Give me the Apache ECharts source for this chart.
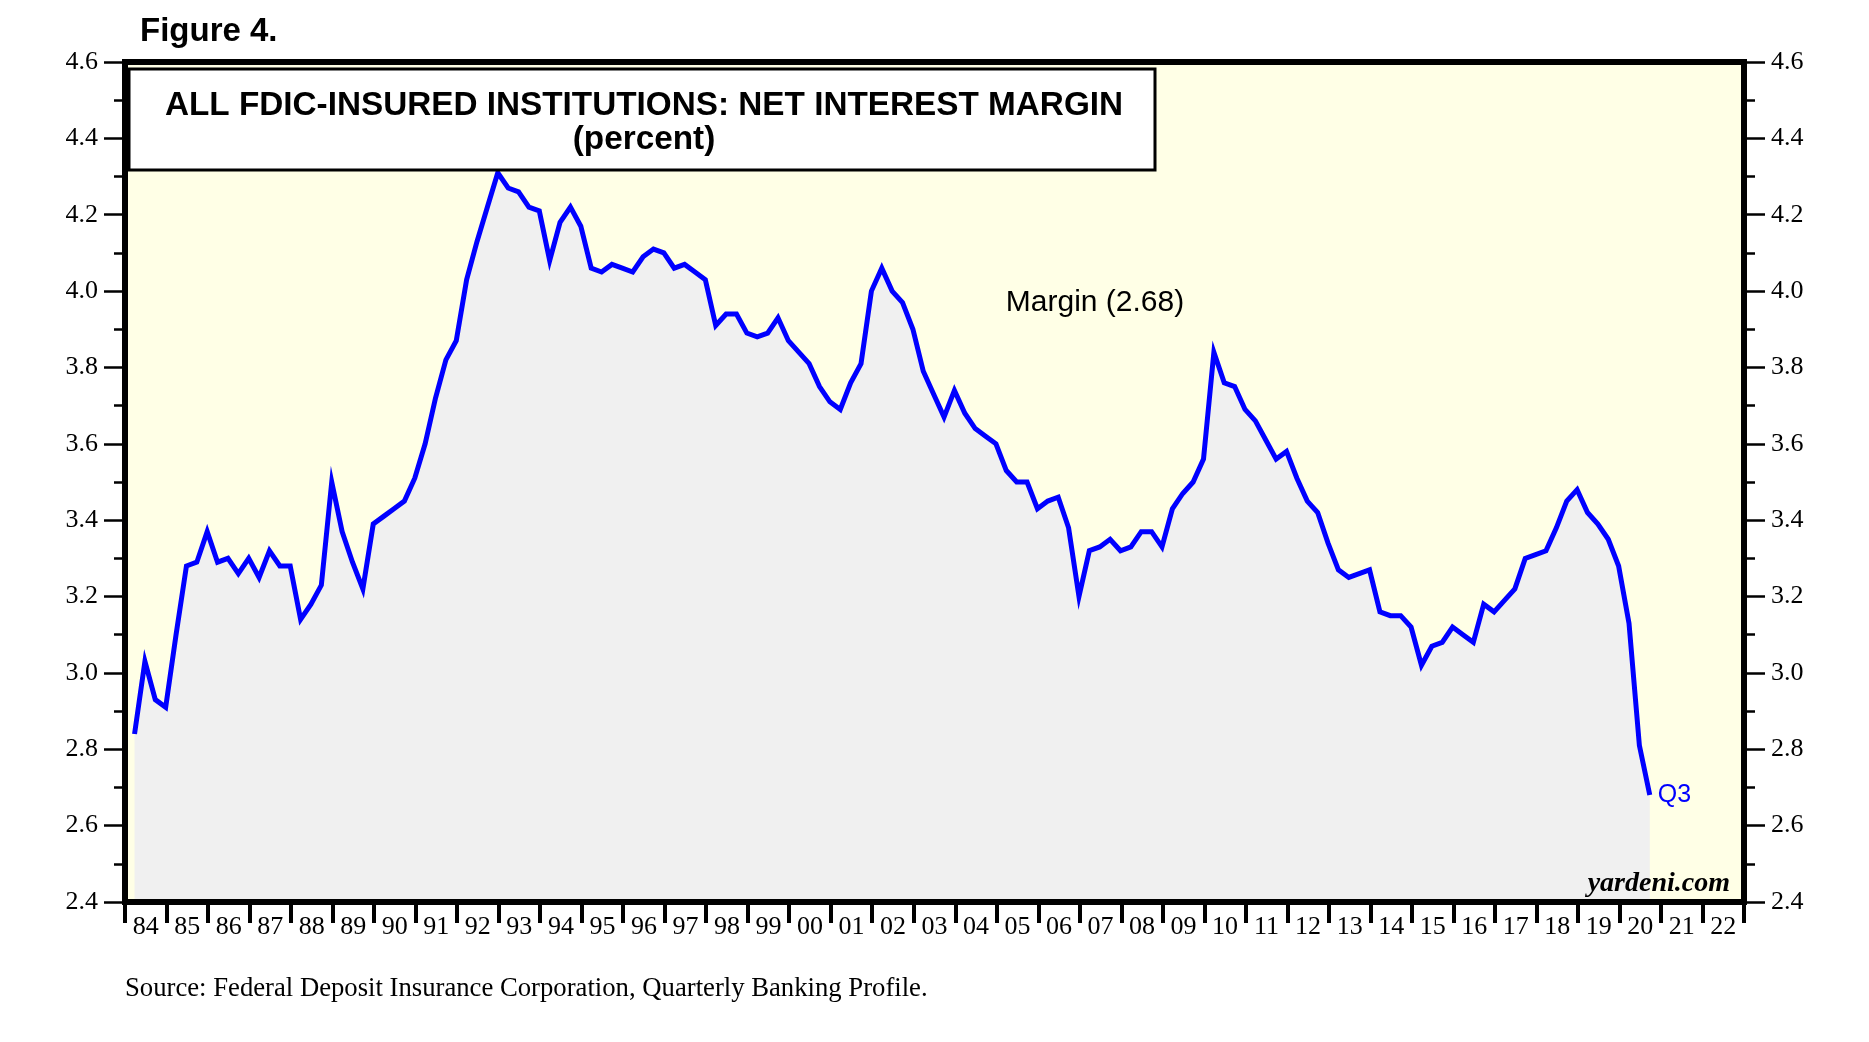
<!DOCTYPE html>
<html><head><meta charset="utf-8">
<script src="https://cdn.jsdelivr.net/npm/echarts@6.0.0/dist/echarts.min.js"></script>
<style>html,body{margin:0;padding:0;background:#fff}#c{width:1869px;height:1042px}</style>
</head><body><div id="c"></div>
<script>
// ---- data ----
const yearLabels = ['84','85','86','87','88','89','90','91','92','93','94','95','96','97','98','99',
  '00','01','02','03','04','05','06','07','08','09','10','11','12','13','14','15','16','17','18','19','20','21','22'];
const startYear = 1984;          // first quarter: 1984 Q1
const lastQuarterLabel = 'Q3';   // last point: 2020 Q3
// Net interest margin, quarterly, percent
const netInterestMargin = [
  2.84, 3.03, 2.93, 2.91,   // 1984
  3.10, 3.28, 3.29, 3.37,   // 1985
  3.29, 3.30, 3.26, 3.30,   // 1986
  3.25, 3.32, 3.28, 3.28,   // 1987
  3.14, 3.18, 3.23, 3.50,   // 1988
  3.37, 3.29, 3.22, 3.39,   // 1989
  3.41, 3.43, 3.45, 3.51,   // 1990
  3.60, 3.72, 3.82, 3.87,   // 1991
  4.03, 4.13, 4.22, 4.31,   // 1992
  4.27, 4.26, 4.22, 4.21,   // 1993
  4.08, 4.18, 4.22, 4.17,   // 1994
  4.06, 4.05, 4.07, 4.06,   // 1995
  4.05, 4.09, 4.11, 4.10,   // 1996
  4.06, 4.07, 4.05, 4.03,   // 1997
  3.91, 3.94, 3.94, 3.89,   // 1998
  3.88, 3.89, 3.93, 3.87,   // 1999
  3.84, 3.81, 3.75, 3.71,   // 2000
  3.69, 3.76, 3.81, 4.00,   // 2001
  4.06, 4.00, 3.97, 3.90,   // 2002
  3.79, 3.73, 3.67, 3.74,   // 2003
  3.68, 3.64, 3.62, 3.60,   // 2004
  3.53, 3.50, 3.50, 3.43,   // 2005
  3.45, 3.46, 3.38, 3.20,   // 2006
  3.32, 3.33, 3.35, 3.32,   // 2007
  3.33, 3.37, 3.37, 3.33,   // 2008
  3.43, 3.47, 3.50, 3.56,   // 2009
  3.84, 3.76, 3.75, 3.69,   // 2010
  3.66, 3.61, 3.56, 3.58,   // 2011
  3.51, 3.45, 3.42, 3.34,   // 2012
  3.27, 3.25, 3.26, 3.27,   // 2013
  3.16, 3.15, 3.15, 3.12,   // 2014
  3.02, 3.07, 3.08, 3.12,   // 2015
  3.10, 3.08, 3.18, 3.16,   // 2016
  3.19, 3.22, 3.30, 3.31,   // 2017
  3.32, 3.38, 3.45, 3.48,   // 2018
  3.42, 3.39, 3.35, 3.28,   // 2019
  3.13, 2.81, 2.68          // 2020
];

const seriesData = netInterestMargin.map((v, i) => [startYear + 0.23 + i / 4, v]);
const lastValue = netInterestMargin[netInterestMargin.length - 1];

const chart = echarts.init(document.getElementById('c'), null, {renderer: 'canvas'});
const SERIF = '"Liberation Serif", "Times New Roman", serif';
const SANS = '"Liberation Sans", Arial, sans-serif';
const G = {left: 125, top: 62, width: 1619, height: 840};

const yAxisCommon = {
  type: 'value', min: 2.4, max: 4.6, interval: 0.2,
  axisLine: {show: false},
  axisTick: {show: true, length: 21, lineStyle: {color: '#000', width: 2.5}},
  minorTick: {show: true, splitNumber: 2, length: 11, lineStyle: {color: '#000', width: 2.5}},
  splitLine: {show: false}, minorSplitLine: {show: false},
  axisLabel: {formatter: v => v.toFixed(1), fontSize: 26, fontFamily: SERIF, color: '#000', margin: 27}
};

chart.setOption({
  animation: false,
  backgroundColor: '#fff',
  grid: {left: G.left, top: G.top, width: G.width, height: G.height, show: true,
         backgroundColor: '#FFFFE6', borderWidth: 0},
  xAxis: [
    {type: 'value', min: 1984, max: 2023, show: false},
    {type: 'category', data: yearLabels, position: 'bottom', boundaryGap: true,
     axisLine: {show: false},
     axisTick: {show: true, interval: 0, length: 21, lineStyle: {color: '#000', width: 4}},
     axisLabel: {interval: 0, fontSize: 26, fontFamily: SERIF, color: '#000', margin: 12},
     splitLine: {show: false}}
  ],
  yAxis: [
    Object.assign({position: 'left'}, yAxisCommon),
    Object.assign({position: 'right'}, yAxisCommon)
  ],
  series: [{
    type: 'line', xAxisIndex: 0, yAxisIndex: 0,
    data: seriesData, showSymbol: false, symbol: 'none',
    lineStyle: {color: '#0000FF', width: 5, join: 'miter'},
    areaStyle: {color: '#F0F0F0', origin: 'start', opacity: 1},
    endLabel: {show: true, formatter: lastQuarterLabel, color: '#0000FF', fontSize: 25,
               fontFamily: SANS, distance: 8},
    z: 3
  }],
  graphic: [
    {type: 'rect', z: 100, silent: true,
     shape: {x: G.left, y: G.top, width: G.width, height: G.height},
     style: {fill: 'none', stroke: '#000', lineWidth: 6}},
    {type: 'rect', z: 110, silent: true,
     shape: {x: 129, y: 69, width: 1026, height: 101},
     style: {fill: '#fff', stroke: '#000', lineWidth: 3}},
    {type: 'text', z: 111, silent: true, x: 644, y: 106,
     style: {text: 'ALL FDIC-INSURED INSTITUTIONS: NET INTEREST MARGIN', font: 'bold 33.3px ' + SANS,
             fill: '#000', align: 'center', verticalAlign: 'middle', textAlign: 'center', textVerticalAlign: 'middle'}},
    {type: 'text', z: 111, silent: true, x: 644, y: 140,
     style: {text: '(percent)', font: 'bold 33.3px ' + SANS,
             fill: '#000', align: 'center', verticalAlign: 'middle', textAlign: 'center', textVerticalAlign: 'middle'}},
    {type: 'text', z: 111, silent: true, x: 140, y: 32,
     style: {text: 'Figure 4.', font: 'bold 33px ' + SANS,
             fill: '#000', align: 'left', verticalAlign: 'middle', textAlign: 'left', textVerticalAlign: 'middle'}},
    {type: 'text', z: 111, silent: true, x: 1095, y: 303,
     style: {text: 'Margin (' + lastValue.toFixed(2) + ')', font: '30px ' + SANS,
             fill: '#000', align: 'center', verticalAlign: 'middle', textAlign: 'center', textVerticalAlign: 'middle'}},
    {type: 'text', z: 111, silent: true, x: 1730, y: 884,
     style: {text: 'yardeni.com', font: 'italic bold 28px ' + SERIF,
             fill: '#000', align: 'right', verticalAlign: 'middle', textAlign: 'right', textVerticalAlign: 'middle'}},
    {type: 'text', z: 111, silent: true, x: 125, y: 989,
     style: {text: 'Source: Federal Deposit Insurance Corporation, Quarterly Banking Profile.', font: '26.7px ' + SERIF,
             fill: '#000', align: 'left', verticalAlign: 'middle', textAlign: 'left', textVerticalAlign: 'middle'}}
  ]
});
</script>
</body></html>
